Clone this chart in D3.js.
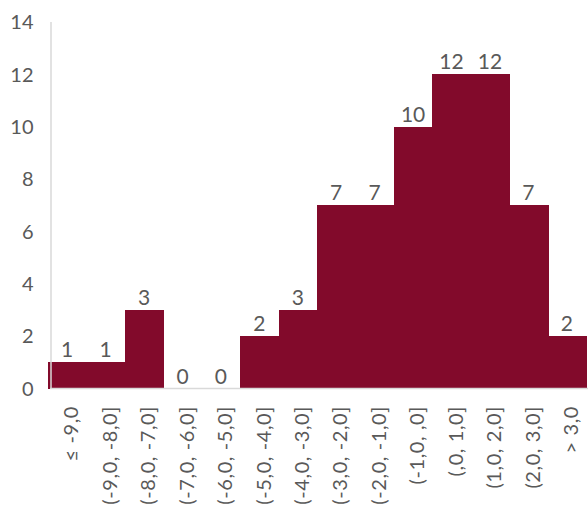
<!DOCTYPE html>
<html>
<head>
<meta charset="utf-8">
<script src="https://cdn.jsdelivr.net/npm/d3@7"></script>
<style>
  html, body { margin: 0; padding: 0; background: #fff; }
  svg { display: block; }
  text { font-family: "Lato", "Open Sans", sans-serif; fill: #595959; }
</style>
</head>
<body>
<svg id="chart" width="588" height="507"></svg>
<script>
const categories = ["≤ -9,0", "(-9,0, -8,0]", "(-8,0, -7,0]", "(-7,0, -6,0]", "(-6,0, -5,0]",
  "(-5,0, -4,0]", "(-4,0, -3,0]", "(-3,0, -2,0]", "(-2,0, -1,0]", "(-1,0, ,0]",
  "(,0, 1,0]", "(1,0, 2,0]", "(2,0, 3,0]", "> 3,0"];
const counts = [1, 1, 3, 0, 0, 2, 3, 7, 7, 10, 12, 12, 7, 2];
const yTicks = [0, 2, 4, 6, 8, 10, 12, 14];

const svg = d3.select("#chart");
const x = d3.scaleBand().domain(categories).range([48, 586]).padding(0);
const y = d3.scaleLinear().domain([0, 14]).range([388.5, 22]);

// bars
svg.append("g").attr("shape-rendering", "crispEdges")
  .selectAll("rect").data(counts).join("rect")
  .attr("x", (d, i) => x(categories[i]))
  .attr("width", x.bandwidth() + 1)
  .attr("y", d => y(d))
  .attr("height", d => y(0) - y(d))
  .attr("fill", "#820a2b");

// baseline
svg.append("line")
  .attr("x1", 50).attr("x2", 588)
  .attr("y1", y(0)).attr("y2", y(0))
  .attr("stroke", "#d9d9d9").attr("stroke-width", 1.5);

// vertical axis
svg.append("line")
  .attr("x1", 51).attr("x2", 51)
  .attr("y1", y(14)).attr("y2", y(0))
  .attr("stroke", "#d9d9d9").attr("stroke-width", 1.5);

// y tick labels
svg.append("g").selectAll("text").data(yTicks).join("text")
  .attr("x", 33.5)
  .attr("y", d => y(d))
  .attr("dy", "0.36em")
  .attr("text-anchor", "end")
  .attr("font-size", 20)
  .text(d => d);

// value labels
svg.append("g").selectAll("text").data(counts).join("text")
  .attr("x", (d, i) => x(categories[i]) + x.bandwidth() / 2)
  .attr("y", d => y(d) - 5)
  .attr("text-anchor", "middle")
  .attr("font-size", 21)
  .text(d => d);

// category labels
svg.append("g").selectAll("text").data(categories).join("text")
  .attr("transform", d => `translate(${x(d) + x.bandwidth() / 2 + 4},406) rotate(-90)`)
  .attr("dy", "0.36em")
  .attr("text-anchor", "end")
  .attr("font-size", 20)
  .attr("letter-spacing", 0.6)
  .text(d => d);
</script>
</body>
</html>
